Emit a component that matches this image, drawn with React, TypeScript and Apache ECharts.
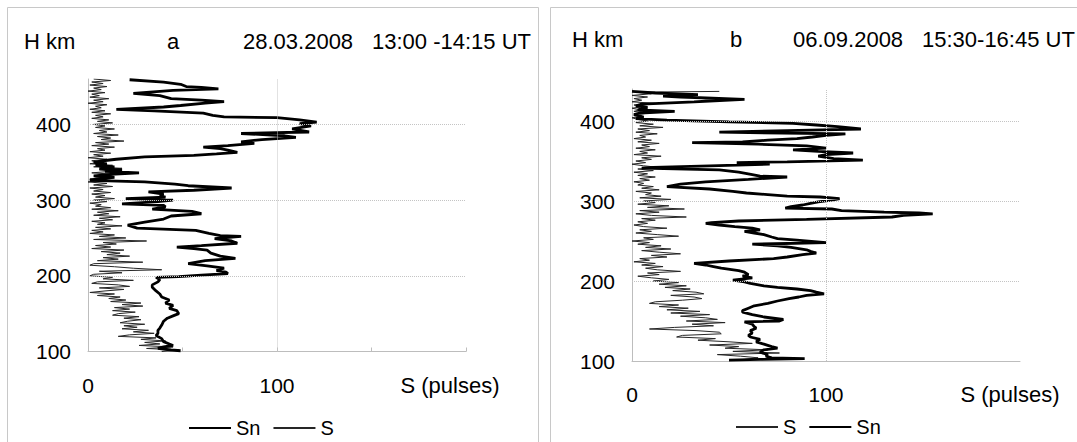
import { useEffect, useRef } from 'react';
import * as echarts from 'echarts';

const FONT = '"Liberation Sans", Arial, sans-serif';

// Panel titles / labels
const PANEL_A_TITLE = ['H km', 'a', '28.03.2008', '13:00 -14:15 UT'];
const PANEL_B_TITLE = ['H km', 'b', '06.09.2008', '15:30-16:45 UT'];
const X_NAME = 'S (pulses)';
const X_LABELS = [0, 100];
const Y_LABELS = [100, 200, 300, 400];
const LEGEND_A = ['Sn', 'S'];
const LEGEND_B = ['S', 'Sn'];

// Panel a, Sn : [height km, pulses]
const A_SN: [number, number][] = [
  [459, 22], [456, 40], [453, 49], [450, 52], [449, 60], [447, 69], [445, 45], [441, 24], [438, 38], [434, 44],
  [432, 60], [430, 72], [428, 62], [425, 49], [423, 40], [420, 15], [418, 35], [415, 61], [412, 66], [410, 72],
  [409, 100], [406, 112], [403, 121], [401, 112], [398, 118], [394, 108], [390, 117], [388, 81], [385, 104], [383, 110],
  [380, 92], [377, 81], [375, 88], [372, 74], [370, 61], [368, 70], [366, 74], [363, 79], [361, 68], [359, 56],
  [357, 30], [354, 15], [352, 8], [350, 3], [348, 10], [346, 4], [344, 14], [342, 6], [340, 18], [338, 9],
  [336, 27], [334, 12], [332, 3], [330, 14], [328, 5], [326, 1], [324, 30], [321, 46], [319, 53], [316, 76],
  [313, 56], [311, 32], [308, 40], [306, 38], [304, 41], [302, 20], [300, 45], [298, 37], [295, 18], [293, 40],
  [291, 41], [288, 34], [285, 55], [282, 60], [279, 44], [275, 40], [271, 30], [267, 21], [263, 26], [260, 57],
  [256, 64], [253, 70], [252, 81], [249, 67], [246, 76], [243, 79], [240, 60], [238, 47], [236, 56], [234, 63],
  [230, 65], [226, 70], [223, 78], [220, 62], [216, 53], [213, 63], [210, 72], [207, 68], [205, 73], [203, 74],
  [201, 60], [199, 48], [198, 36], [195, 38], [192, 37], [188, 34], [185, 34], [180, 36], [176, 38], [172, 39],
  [168, 43], [164, 41], [161, 45], [157, 43], [154, 47], [150, 48], [147, 45], [144, 42], [140, 40], [135, 39],
  [131, 38], [128, 37], [124, 37], [121, 36], [117, 39], [113, 40], [110, 43], [108, 45], [106, 40], [104, 37],
  [102, 44], [101, 49],
];

// Panel a, S : [height km, pulses]
const A_S: [number, number][] = [
  [460, 3], [458, 12], [456, 2], [454, 8], [452, 1], [450, 10], [448, 3], [446, 7], [444, 0], [442, 9],
  [440, 2], [438, 6], [436, 1], [434, 11], [432, 3], [430, 8], [428, 0], [426, 10], [424, 4], [422, 7],
  [420, 1], [418, 9], [416, 2], [414, 12], [412, 4], [410, 8], [408, 2], [406, 11], [404, 5], [402, 13],
  [400, 3], [398, 9], [396, 4], [394, 14], [392, 6], [390, 10], [388, 3], [386, 16], [384, 5], [382, 12],
  [380, 7], [378, 19], [376, 4], [374, 11], [372, 2], [370, 14], [368, 5], [366, 9], [364, 1], [362, 12],
  [360, 3], [358, 8], [356, 0], [354, 10], [352, 2], [350, 6], [348, 1], [346, 13], [344, 3], [342, 18],
  [340, 6], [338, 12], [336, 2], [334, 15], [332, 4], [330, 9], [328, 1], [326, 7], [324, 0], [322, 10],
  [320, 3], [318, 13], [316, 1], [314, 8], [312, 3], [310, 12], [308, 2], [306, 9], [304, 4], [302, 14],
  [300, 3], [298, 10], [296, 1], [294, 7], [292, 4], [290, 12], [288, 2], [286, 16], [284, 5], [282, 11],
  [280, 3], [278, 17], [276, 6], [274, 13], [272, 2], [270, 9], [268, 5], [266, 18], [264, 4], [262, 12],
  [260, 2], [258, 8], [256, 1], [254, 14], [252, 6], [250, 20], [248, 3], [246, 31], [244, 8], [242, 15],
  [240, 4], [238, 12], [236, 2], [234, 19], [232, 7], [230, 17], [228, 10], [226, 22], [224, 8], [222, 16],
  [220, 5], [218, 29], [216, 3], [214, 1], [212, 14], [210, 24], [208, 39], [206, 6], [204, 18], [202, 3],
  [200, 1], [198, 13], [196, 8], [194, 24], [192, 5], [190, 2], [188, 16], [186, 22], [184, 6], [182, 19],
  [180, 9], [178, 1], [176, 14], [174, 5], [172, 17], [170, 11], [168, 20], [166, 12], [164, 28], [162, 18],
  [160, 29], [158, 14], [156, 22], [154, 13], [152, 25], [150, 16], [148, 13], [146, 27], [144, 19], [142, 28],
  [140, 21], [138, 17], [136, 30], [134, 19], [132, 26], [130, 18], [128, 32], [126, 24], [124, 35], [122, 22],
  [120, 16], [118, 36], [116, 28], [114, 41], [112, 30], [110, 38], [108, 27], [106, 45], [104, 31], [102, 48],
  [100, 39],
];

// Panel b, Sn : [height km, pulses]
const B_SN: [number, number][] = [
  [437, 0], [435, 12], [433, 34], [431, 16], [430, 25], [427, 58], [425, 40], [424, 32], [421, 5], [419, 2],
  [417, 8], [414, 3], [412, 22], [410, 4], [408, 1], [405, 6], [403, 2], [401, 18], [399, 50], [397, 83],
  [395, 95], [393, 106], [390, 118], [389, 98], [388, 80], [386, 45], [384, 110], [382, 100], [380, 93], [378, 85],
  [376, 70], [374, 57], [373, 31], [371, 65], [369, 90], [366, 100], [364, 83], [362, 96], [360, 114], [358, 100],
  [356, 96], [353, 104], [351, 119], [349, 80], [348, 54], [346, 71], [344, 40], [342, 11], [341, 5], [339, 45],
  [336, 55], [333, 62], [331, 66], [330, 80], [327, 60], [324, 38], [321, 25], [318, 18], [315, 40], [312, 52],
  [310, 59], [308, 70], [306, 80], [305, 97], [303, 107], [301, 103], [299, 96], [297, 92], [295, 88], [293, 82],
  [291, 79], [290, 103], [288, 108], [286, 130], [285, 148], [284, 155], [282, 140], [280, 134], [277, 90], [275, 55],
  [273, 41], [272, 38], [270, 45], [268, 53], [266, 62], [264, 66], [262, 58], [260, 63], [258, 68], [255, 72],
  [253, 75], [251, 85], [248, 100], [246, 62], [244, 75], [242, 82], [239, 90], [237, 92], [235, 95], [233, 88],
  [230, 80], [228, 73], [225, 50], [222, 32], [220, 38], [218, 42], [216, 46], [213, 55], [211, 58], [208, 60],
  [206, 57], [204, 62], [201, 52], [199, 58], [197, 61], [194, 68], [192, 75], [190, 85], [188, 92], [186, 95],
  [184, 99], [182, 90], [180, 86], [178, 81], [175, 75], [172, 70], [169, 63], [166, 60], [163, 57], [161, 57],
  [158, 62], [155, 68], [152, 78], [150, 76], [149, 58], [146, 62], [143, 63], [141, 64], [138, 61], [135, 62],
  [132, 60], [130, 61], [127, 66], [124, 64], [121, 68], [118, 72], [116, 75], [114, 68], [111, 66], [108, 70],
  [106, 69], [104, 72], [103, 89], [102, 66], [101, 50],
];

// Panel b, S : [height km, pulses]
const B_S: [number, number][] = [
  [437, 45], [436, 2], [434, 10], [432, 0], [430, 8], [428, 1], [426, 5], [424, 0], [422, 12], [420, 1],
  [418, 6], [416, 0], [414, 4], [412, 1], [410, 9], [408, 2], [406, 5], [404, 0], [402, 3], [400, 8],
  [398, 2], [396, 11], [394, 4], [392, 16], [390, 3], [388, 9], [386, 2], [384, 13], [382, 4], [380, 7],
  [378, 1], [376, 10], [374, 3], [372, 14], [370, 5], [368, 9], [366, 2], [364, 12], [362, 4], [360, 8],
  [358, 1], [356, 15], [354, 5], [352, 10], [350, 2], [348, 7], [346, 0], [344, 6], [342, 14], [340, 3],
  [338, 11], [336, 1], [334, 8], [332, 3], [330, 12], [328, 4], [326, 9], [324, 1], [322, 6], [320, 3],
  [318, 11], [316, 5], [314, 14], [312, 2], [310, 10], [308, 7], [306, 15], [304, 4], [302, 20], [300, 6],
  [298, 12], [296, 3], [294, 19], [292, 8], [290, 27], [288, 4], [286, 14], [284, 2], [282, 10], [280, 28],
  [278, 5], [276, 12], [274, 3], [272, 8], [270, 1], [268, 6], [266, 18], [264, 4], [262, 10], [260, 2],
  [258, 13], [256, 24], [254, 6], [252, 11], [250, 0], [248, 9], [246, 3], [244, 15], [242, 7], [240, 20],
  [238, 5], [236, 14], [234, 25], [232, 10], [230, 18], [228, 4], [226, 9], [224, 1], [222, 12], [220, 5],
  [218, 16], [216, 7], [214, 13], [212, 25], [210, 8], [208, 14], [206, 3], [204, 10], [202, 19], [200, 11],
  [198, 24], [196, 14], [194, 28], [192, 17], [190, 30], [188, 21], [186, 33], [184, 37], [182, 20], [180, 32],
  [178, 36], [176, 26], [174, 12], [172, 9], [170, 24], [168, 14], [166, 29], [164, 18], [162, 35], [160, 20],
  [158, 40], [156, 25], [154, 38], [152, 44], [150, 28], [148, 48], [146, 31], [144, 42], [142, 22], [140, 9],
  [138, 33], [136, 45], [134, 46], [132, 26], [130, 23], [128, 43], [126, 34], [124, 50], [122, 62], [120, 40],
  [118, 55], [116, 48], [114, 70], [112, 52], [110, 76], [108, 44], [106, 56], [104, 65], [102, 58], [101, 50],
];

const toXY = (rows: [number, number][]) => rows.map(([h, v]) => [v, h]);

const AXIS_GRAY = '#bdbdbd';
const GRID_GRAY = '#c4c4c4';

function xAxis(gridIndex: number, ticks: boolean) {
  return {
    type: 'value', gridIndex, min: 0, max: 200, interval: 50,
    axisLine: { show: true, lineStyle: { color: AXIS_GRAY, width: 1 } },
    axisTick: { show: ticks, inside: true, length: 4, lineStyle: { color: AXIS_GRAY } },
    splitLine: { show: false },
    axisLabel: {
      color: '#000', fontSize: 21, fontFamily: FONT, margin: 23,
      formatter: (v: number) => (X_LABELS.includes(v) ? String(v) : ''),
    },
  };
}

function yAxis(gridIndex: number, max: number) {
  return {
    type: 'value', gridIndex, min: 100, max, interval: 100,
    axisLine: { show: true, onZero: false, lineStyle: { color: AXIS_GRAY, width: 1 } },
    axisTick: { show: false },
    splitLine: { show: false },
    axisLabel: {
      color: '#000', fontSize: 21, fontFamily: FONT, margin: 17, showMaxLabel: false,
      formatter: (v: number) => (Y_LABELS.includes(v) ? String(v) : ''),
    },
  };
}

const gridMark = {
  silent: true, symbol: 'none', animation: false,
  label: { show: false },
  lineStyle: { color: GRID_GRAY, type: 'dotted', width: 1 },
  data: [{ xAxis: 100 }, { yAxis: 200 }, { yAxis: 300 }, { yAxis: 400 }],
};

const thin = { color: '#262626', width: 1 };
const thick = { color: '#000', width: 2.8 };

function series(name: string, rows: [number, number][], idx: number, style: any, mark: boolean) {
  return {
    name, type: 'line', xAxisIndex: idx, yAxisIndex: idx,
    data: toXY(rows), symbol: 'none', showSymbol: false, smooth: false,
    lineStyle: style, itemStyle: { color: style.color },
    emphasis: { disabled: true },
    z: style.width > 2 ? 3 : 2,
    ...(mark ? { markLine: gridMark } : {}),
  };
}

function text(str: string, x: number, y: number, size: number, align = 'left') {
  return {
    type: 'text', x, y, silent: true,
    style: { text: str, fill: '#000', fontSize: size, fontFamily: FONT, align, verticalAlign: 'middle' },
  };
}

const legendBase = {
  itemWidth: 42, itemHeight: 14, itemGap: 12, selectedMode: false,
  itemStyle: { opacity: 0 },
  textStyle: { fontSize: 20, color: '#000', fontFamily: FONT },
};

const option = {
  animation: false,
  textStyle: { fontFamily: FONT },
  grid: [
    { left: 88, top: 79, width: 378, height: 272.5 },
    { left: 632, top: 89, width: 388, height: 272 },
  ],
  xAxis: [xAxis(0, true), xAxis(1, false)],
  yAxis: [yAxis(0, 460), yAxis(1, 440)],
  legend: [
    { ...legendBase, data: LEGEND_A, left: 183, top: 413 },
    { ...legendBase, data: LEGEND_B, left: 730, top: 412 },
  ],
  series: [
    series('S', A_S, 0, thin, true),
    series('Sn', A_SN, 0, thick, false),
    series('S', B_S, 1, thin, true),
    series('Sn', B_SN, 1, thick, false),
  ],
  graphic: [
    { type: 'rect', silent: true, shape: { x: 7.5, y: 7.5, width: 531, height: 460 }, style: { fill: 'none', stroke: '#c8c8c8', lineWidth: 1 } },
    { type: 'rect', silent: true, shape: { x: 550.5, y: 7.5, width: 560, height: 460 }, style: { fill: 'none', stroke: '#c8c8c8', lineWidth: 1 } },
    text(PANEL_A_TITLE[0], 24, 41, 22),
    text(PANEL_A_TITLE[1], 167, 41, 22),
    text(PANEL_A_TITLE[2], 243, 41, 22),
    text(PANEL_A_TITLE[3], 372, 41, 22),
    text(PANEL_B_TITLE[0], 572, 39, 22),
    text(PANEL_B_TITLE[1], 730, 39, 22),
    text(PANEL_B_TITLE[2], 793, 39, 22),
    text(PANEL_B_TITLE[3], 922, 39, 22),
    text(X_NAME, 450, 385, 22, 'center'),
    text(X_NAME, 1010, 394, 22, 'center'),
  ],
};

export default function App() {
  const ref = useRef<HTMLDivElement>(null);
  useEffect(() => {
    document.body.style.margin = '0';
    const chart = echarts.init(ref.current!, null, { renderer: 'svg' });
    chart.setOption(option as any);
    return () => chart.dispose();
  }, []);
  return <div ref={ref} style={{ width: 1077, height: 442 }} />;
}
